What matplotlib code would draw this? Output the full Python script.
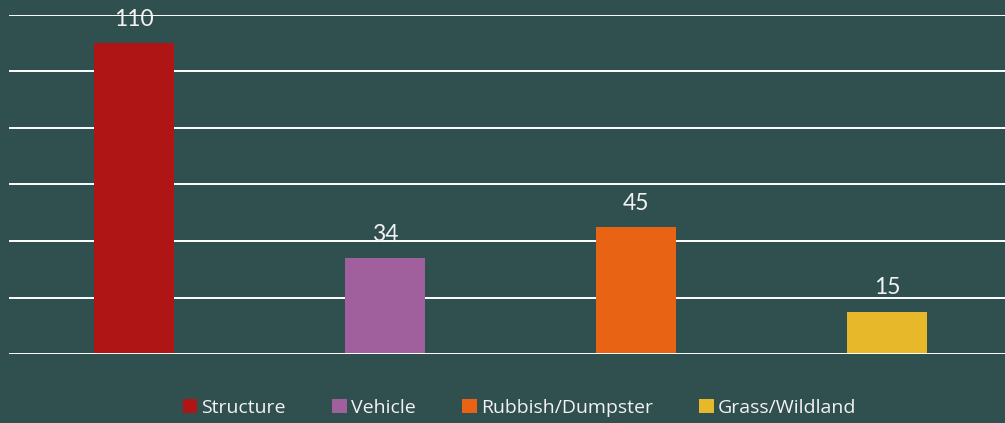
import matplotlib

matplotlib.use("Agg")
import matplotlib.pyplot as plt
from matplotlib.patches import Patch

categories = ["Structure", "Vehicle", "Rubbish/Dumpster", "Grass/Wildland"]
counts = [110, 34, 45, 15]
colors = ["#B01515", "#A0609E", "#E86414", "#E6B82A"]
yticks = [0, 20, 40, 60, 80, 100, 120]

BG = "#304F4F"
W, H = 1005, 423

fig = plt.figure(figsize=(W / 100, H / 100), dpi=100, facecolor=BG)
ax = fig.add_axes([8.5 / W, 69 / H, (W - 8.5) / W, 339 / H])
ax.set_facecolor(BG)

x = list(range(len(categories)))
ax.bar(x, counts, width=0.315, color=colors, zorder=2)
for yv in yticks:
    ax.axhline(yv, color="white", lw=1.4, zorder=1 if yv else 3)

for xi, v in zip(x, counts):
    ax.annotate(str(v), (xi, v), xytext=(0, 9.5), textcoords="offset points",
                ha="center", va="bottom", color="#F2F2F2", fontsize=16.5,
                family="Lato", zorder=4)

ax.set_xlim(-0.5, 3.5 - 7.5 / 251)
ax.set_ylim(0, 120)
ax.axis("off")

handles = [Patch(facecolor=c, edgecolor="none") for c in colors]
fig.legend(handles, categories, loc="center", bbox_to_anchor=(0.517, 1 - 408 / H),
           ncol=4, frameon=False, labelcolor="#F2F2F2",
           prop={"family": "Open Sans", "size": 14},
           handlelength=0.75, handleheight=0.75, handletextpad=0.2,
           columnspacing=2.4)

fig.savefig("out.png", dpi=100, facecolor=BG)
